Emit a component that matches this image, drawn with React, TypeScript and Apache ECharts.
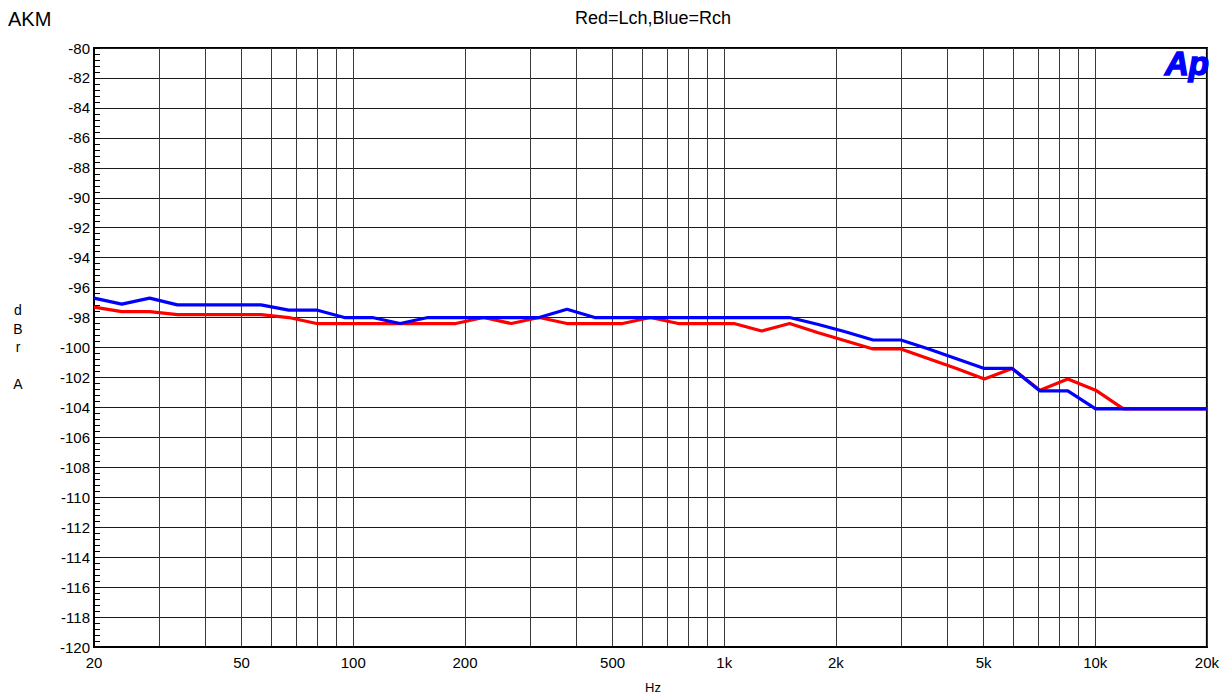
import React, { useEffect, useRef } from "react";
import * as echarts from "echarts";

// Sweep frequencies (Hz)
const freqs = [
  20, 23.77, 28.25, 33.57, 39.9, 47.43, 56.37, 66.99, 79.62, 94.63,
  112.5, 133.7, 158.9, 188.8, 224.4, 266.7, 317.0, 376.7, 447.7, 532.1,
  632.5, 751.7, 893.4, 1062, 1262, 1500, 1783, 2119, 2518, 2993,
  3557, 4227, 5024, 5971, 7096, 8434, 10024, 11913, 14159, 16828, 20000,
];

// Left channel (red), dBr A
const lchDb = [
  -97.3, -97.6, -97.6, -97.8, -97.8, -97.8, -97.8, -98.0, -98.4, -98.4,
  -98.4, -98.4, -98.4, -98.4, -98.0, -98.4, -98.0, -98.4, -98.4, -98.4,
  -98.0, -98.4, -98.4, -98.4, -98.9, -98.4, -99.0, -99.55, -100.1, -100.1,
  -100.75, -101.4, -102.1, -101.4, -102.85, -102.1, -102.85, -104.1, -104.1, -104.1, -104.1,
];

// Right channel (blue), dBr A
const rchDb = [
  -96.7, -97.1, -96.7, -97.15, -97.15, -97.15, -97.15, -97.5, -97.5, -98.0,
  -98.0, -98.4, -98.0, -98.0, -98.0, -98.0, -98.0, -97.45, -98.0, -98.0,
  -98.0, -98.0, -98.0, -98.0, -98.0, -98.0, -98.45, -98.95, -99.5, -99.5,
  -100.1, -100.75, -101.4, -101.4, -102.9, -102.9, -104.1, -104.1, -104.1, -104.1, -104.1,
];

// Vertical grid line frequencies
const gridFreqs = [
  30, 40, 50, 60, 70, 80, 90, 100,
  200, 300, 400, 500, 600, 700, 800, 900, 1000,
  2000, 3000, 4000, 5000, 6000, 7000, 8000, 9000, 10000, 20000,
];

const xTickValues = [20, 50, 100, 200, 500, 1000, 2000, 5000, 10000, 20000];
const xTickLabels = ["20", "50", "100", "200", "500", "1k", "2k", "5k", "10k", "20k"];

const yMin = -120;
const yMax = -80;
const yStep = 2;

const FONT = "'Liberation Sans', Arial, Helvetica, sans-serif";

export default function App() {
  const ref = useRef<HTMLDivElement>(null);

  useEffect(() => {
    if (!ref.current) return;
    const chart = echarts.init(ref.current, null, { renderer: "svg" });

    const labelFor = (v: number) => {
      let best = 0;
      let bestD = Infinity;
      xTickValues.forEach((t, i) => {
        const d = Math.abs(Math.log10(v) - Math.log10(t));
        if (d < bestD) {
          bestD = d;
          best = i;
        }
      });
      return bestD < 0.01 ? xTickLabels[best] : "";
    };

    chart.setOption({
      animation: false,
      backgroundColor: "#ffffff",
      textStyle: { fontFamily: FONT, color: "#000" },
      grid: {
        left: 94,
        right: 9,
        top: 48,
        bottom: 51,
        show: true,
        borderColor: "#000",
        borderWidth: 2,
        backgroundColor: "transparent",
      },
      xAxis: {
        type: "log",
        logBase: 10,
        min: 20,
        max: 20000,
        axisLine: { show: true, lineStyle: { color: "#000", width: 2 } },
        axisTick: { show: false, customValues: gridFreqs },
        splitLine: { show: true, lineStyle: { color: "#3a3a3a", width: 1 } },
        minorTick: { show: false },
        minorSplitLine: { show: false },
        axisLabel: {
          customValues: xTickValues,
          formatter: (v: number) => labelFor(v),
          color: "#000",
          fontSize: 15,
          margin: 8,
          fontFamily: FONT,
        },
      },
      yAxis: {
        type: "value",
        min: yMin,
        max: yMax,
        interval: yStep,
        axisLine: { show: true, lineStyle: { color: "#000", width: 2 } },
        axisTick: { show: true, inside: true, length: 6, lineStyle: { color: "#000" } },
        minorTick: { show: true, splitNumber: 5, length: 6, lineStyle: { color: "#000", width: 1 } },
        splitLine: { show: true, lineStyle: { color: "#1a1a1a", width: 1 } },
        axisLabel: {
          color: "#000",
          fontSize: 15,
          margin: 4,
          fontFamily: FONT,
          showMinLabel: true,
          showMaxLabel: true,
        },
      },
      series: [
        {
          name: "Lch",
          type: "line",
          data: freqs.map((f, i) => [f, lchDb[i]]),
          showSymbol: false,
          symbol: "none",
          lineStyle: { color: "#ff0000", width: 3.2 },
          itemStyle: { color: "#ff0000" },
          z: 3,
        },
        {
          name: "Rch",
          type: "line",
          data: freqs.map((f, i) => [f, rchDb[i]]),
          showSymbol: false,
          symbol: "none",
          lineStyle: { color: "#0000ff", width: 3.2 },
          itemStyle: { color: "#0000ff" },
          z: 4,
        },
      ],
      graphic: [
        {
          type: "text",
          left: 8,
          top: 9,
          style: { text: "AKM", fontSize: 20, fontFamily: FONT, fill: "#000" },
        },
        {
          type: "text",
          x: 653,
          y: 9,
          style: {
            text: "Red=Lch,Blue=Rch",
            fontSize: 18,
            fontFamily: FONT,
            fill: "#000",
            align: "center",
            verticalAlign: "top",
          },
        },
        {
          type: "text",
          x: 18,
          y: 301,
          style: {
            text: "d\nB\nr\n\nA",
            fontSize: 14,
            lineHeight: 18.5,
            fontFamily: FONT,
            fill: "#000",
            align: "center",
            verticalAlign: "top",
          },
        },
        {
          type: "text",
          x: 653,
          y: 681,
          style: {
            text: "Hz",
            fontSize: 13,
            fontFamily: FONT,
            fill: "#000",
            align: "center",
            verticalAlign: "top",
          },
        },
        {
          type: "text",
          x: 1209,
          y: 47,
          z: 10,
          style: {
            text: "Ap",
            fontSize: 33,
            fontWeight: "bold",
            fontStyle: "italic",
            fontFamily: FONT,
            fill: "#0000ff",
            stroke: "#0000ff",
            lineWidth: 1.5,
            align: "right",
            verticalAlign: "top",
          },
        },
      ],
    });

    return () => {
      chart.dispose();
    };
  }, []);

  return (
    <div
      ref={ref}
      style={{ position: "fixed", left: 0, top: 0, width: 1222, height: 698 }}
    />
  );
}
